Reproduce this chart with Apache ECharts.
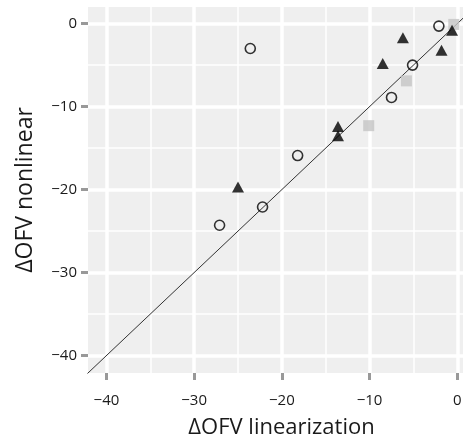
<!DOCTYPE html>
<html>
<head>
<meta charset="utf-8">
<script src="https://cdn.jsdelivr.net/npm/echarts@6/dist/echarts.min.js"></script>
<style>
  html, body { margin: 0; padding: 0; background: #fff; }
  #chart { width: 463px; height: 444px; }
</style>
</head>
<body>
<div id="chart"></div>
<script>
// Valeurs (ΔOFV linéarisation, ΔOFV non linéaire)
const circles = [[-23.6, -3.0], [-2.1, -0.3], [-5.1, -5.0], [-7.5, -8.9], [-18.2, -15.9], [-22.2, -22.1], [-27.1, -24.3]];
const triangles = [[-6.2, -1.7], [-8.5, -4.8], [-1.8, -3.2], [-0.6, -0.8], [-13.6, -12.4], [-13.6, -13.5], [-25.0, -19.7]];
const squares = [[-0.4, -0.1], [-5.8, -6.9], [-10.1, -12.3]];
const identityLine = [[-50, -50], [10, 10]];

const majorTicks = [-40, -30, -20, -10, 0];
const minorTicks = [-35, -25, -15, -5];

const minus = v => String(v).replace('-', '\u2212');
const font = '"Open Sans", "Noto Sans", sans-serif';

function mainAxis(name, isX) {
    return {
        type: 'value',
        min: -42.1,
        max: isX ? 0.65 : 2,
        position: isX ? 'bottom' : 'left',
        name: name,
        nameLocation: 'middle',
        nameGap: isX ? 44 : 51,
        nameTextStyle: {
            fontSize: isX ? 22 : 23,
            color: '#1a1a1a',
            fontFamily: font,
            // le panneau d'origine dépasse à droite : on décale le titre
            padding: isX ? [0, 0, 0, 12] : 0
        },
        axisLine: { show: false, onZero: false },
        axisTick: {
            show: true,
            length: 7,
            customValues: majorTicks,
            lineStyle: { color: '#999999', width: 3 }
        },
        axisLabel: {
            customValues: majorTicks,
            margin: isX ? 20 : 11,
            fontSize: 15,
            color: '#1a1a1a',
            fontFamily: font,
            formatter: minus
        },
        splitLine: { show: true, lineStyle: { color: '#ffffff', width: 3.5 } }
    };
}

function minorAxis(isX) {
    return {
        type: 'value',
        min: -42.1,
        max: isX ? 0.65 : 2,
        position: isX ? 'bottom' : 'left',
        axisLine: { show: false, onZero: false },
        axisTick: { show: false, customValues: minorTicks },
        axisLabel: { show: false, customValues: minorTicks },
        splitLine: { show: true, lineStyle: { color: '#ffffff', width: 1.5 } }
    };
}

const chart = echarts.init(document.getElementById('chart'));
chart.setOption({
    animation: false,
    grid: {
        left: 88,
        top: 7,
        right: 0,
        bottom: 71,
        outerBoundsMode: 'none',
        containLabel: false,
        show: true,
        backgroundColor: '#efefef',
        borderWidth: 0
    },
    xAxis: [mainAxis('\u0394OFV linearization', true), minorAxis(true)],
    yAxis: [mainAxis('\u0394OFV nonlinear', false), minorAxis(false)],
    series: [
        {
            type: 'line',
            data: identityLine,
            symbol: 'none',
            clip: true,
            lineStyle: { color: '#333', width: 1 },
            z: 3
        },
        {
            type: 'scatter',
            data: squares,
            symbol: 'rect',
            symbolSize: 11,
            itemStyle: { color: '#c4c4c4' },
            z: 4
        },
        {
            type: 'scatter',
            data: triangles,
            symbol: 'triangle',
            symbolSize: [12, 11],
            itemStyle: { color: '#000' },
            z: 5
        },
        {
            type: 'scatter',
            data: circles,
            symbol: 'circle',
            symbolSize: 10,
            itemStyle: { color: 'rgba(0,0,0,0)', borderColor: '#000', borderWidth: 1.6 },
            z: 6
        }
    ]
});
</script>
</body>
</html>
